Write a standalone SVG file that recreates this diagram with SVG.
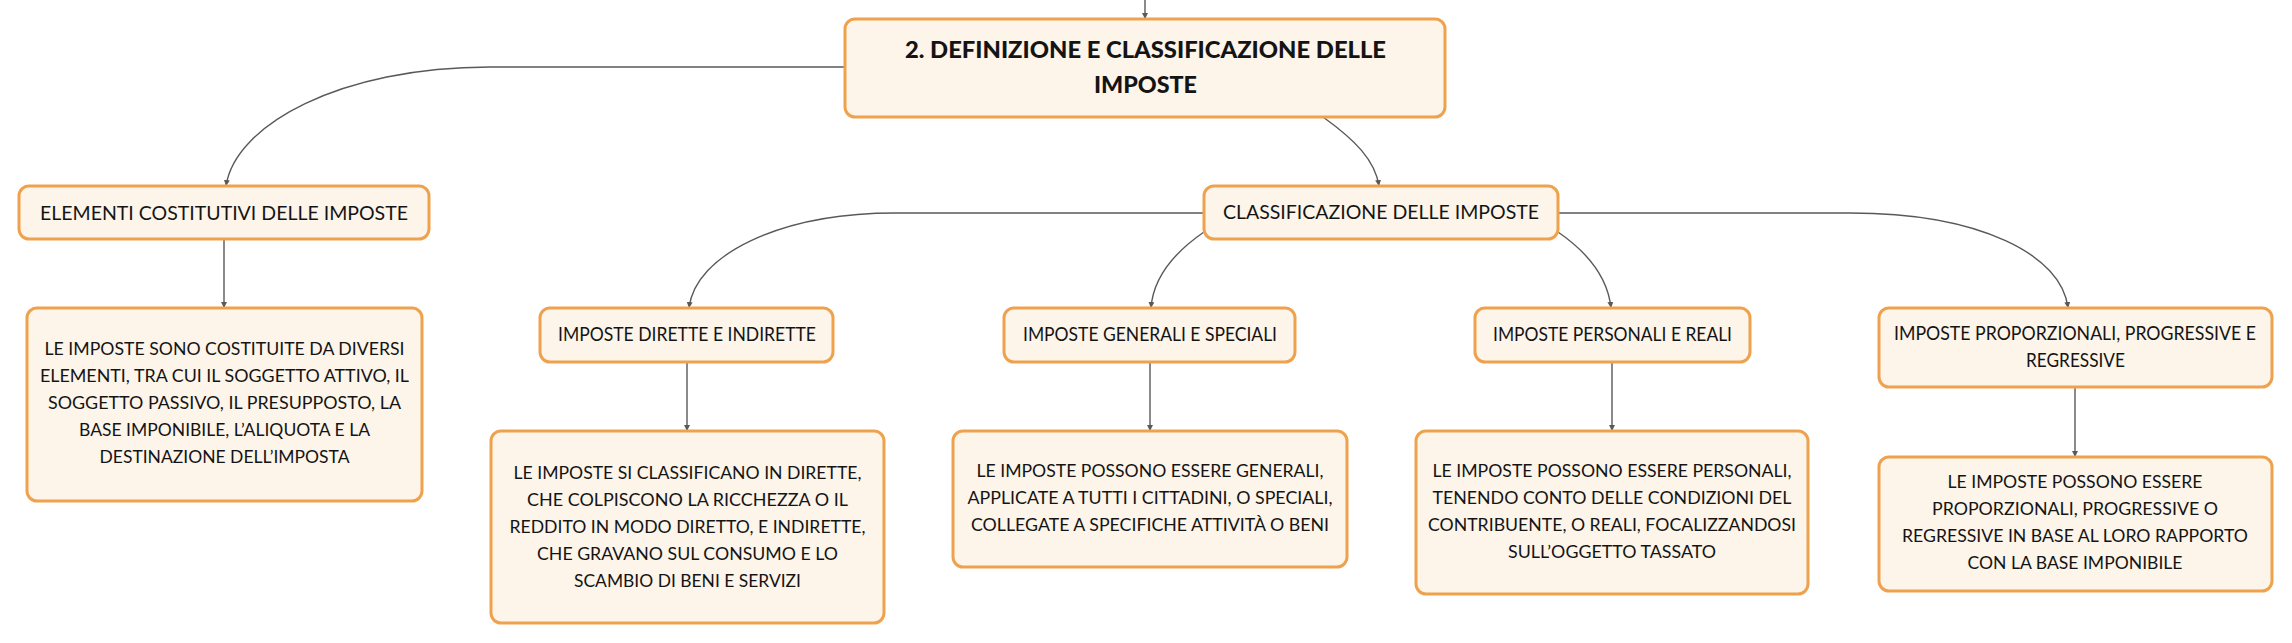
<svg xmlns="http://www.w3.org/2000/svg" width="2292" height="643" viewBox="0 0 2292 643">
<style>
.box{fill:#FDF4EA;stroke:#EFA24E;stroke-width:3}
.t{font-family:Lato,"Noto Sans",sans-serif;fill:#141414;text-anchor:middle}
.h{font-size:19.5px}
.d{font-size:17.5px}
.m{font-size:23px;font-weight:900}
.c{fill:none;stroke:#595959;stroke-width:1.4}
</style>
<defs>
<marker id="ar" markerUnits="userSpaceOnUse" markerWidth="6" markerHeight="6" refX="6" refY="3" orient="auto">
<path d="M0,0 L6,3 L0,6 z" fill="#595959"/>
</marker>
</defs>
<rect width="2292" height="643" fill="#ffffff"/>
<g id="connectors">
<path class="c" d="M1145,0 V19" marker-end="url(#ar)"/>
<path class="c" d="M845,67 H490 C340,67 235,125 226,186" marker-end="url(#ar)"/>
<path class="c" d="M1323,117 C1355,140 1375,160 1379,186" marker-end="url(#ar)"/>
<path class="c" d="M224,239 V308" marker-end="url(#ar)"/>
<path class="c" d="M1204,213 H895 C780,213 695,255 689,308" marker-end="url(#ar)"/>
<path class="c" d="M1204,232 C1172,254 1153,280 1151,308" marker-end="url(#ar)"/>
<path class="c" d="M1558,232 C1590,254 1608,280 1611,308" marker-end="url(#ar)"/>
<path class="c" d="M1558,213 H1850 C1980,213 2062,255 2068,308" marker-end="url(#ar)"/>
<path class="c" d="M687,362 V431" marker-end="url(#ar)"/>
<path class="c" d="M1150,362 V431" marker-end="url(#ar)"/>
<path class="c" d="M1612,362 V431" marker-end="url(#ar)"/>
<path class="c" d="M2075,387 V457" marker-end="url(#ar)"/>
</g>
<g id="main">
<rect class="box" x="845" y="19" width="600" height="98" rx="10"/>
<text class="t m" x="1145.5" y="58" textLength="481" lengthAdjust="spacingAndGlyphs">2. DEFINIZIONE E CLASSIFICAZIONE DELLE</text>
<text class="t m" x="1145.5" y="93" textLength="103" lengthAdjust="spacingAndGlyphs">IMPOSTE</text>
</g>
<g id="elementi">
<rect class="box" x="19" y="186" width="410" height="53" rx="10"/>
<text class="t h" x="224" y="220" textLength="368" lengthAdjust="spacingAndGlyphs">ELEMENTI COSTITUTIVI DELLE IMPOSTE</text>
</g>
<g id="desc-elementi">
<rect class="box" x="27" y="308" width="395" height="193" rx="10"/>
<text class="t d" x="224.5" y="355" textLength="360" lengthAdjust="spacingAndGlyphs">LE IMPOSTE SONO COSTITUITE DA DIVERSI</text>
<text class="t d" x="224.5" y="382" textLength="369" lengthAdjust="spacingAndGlyphs">ELEMENTI, TRA CUI IL SOGGETTO ATTIVO, IL</text>
<text class="t d" x="224.5" y="409" textLength="353" lengthAdjust="spacingAndGlyphs">SOGGETTO PASSIVO, IL PRESUPPOSTO, LA</text>
<text class="t d" x="224.5" y="436" textLength="291" lengthAdjust="spacingAndGlyphs">BASE IMPONIBILE, L’ALIQUOTA E LA</text>
<text class="t d" x="224.5" y="463" textLength="250" lengthAdjust="spacingAndGlyphs">DESTINAZIONE DELL’IMPOSTA</text>
</g>
<g id="classificazione">
<rect class="box" x="1204" y="186" width="354" height="53" rx="10"/>
<text class="t h" x="1381" y="219" textLength="316" lengthAdjust="spacingAndGlyphs">CLASSIFICAZIONE DELLE IMPOSTE</text>
</g>
<g id="dirette">
<rect class="box" x="540" y="308" width="293" height="54" rx="10"/>
<text class="t h" x="687" y="341" textLength="258" lengthAdjust="spacingAndGlyphs">IMPOSTE DIRETTE E INDIRETTE</text>
</g>
<g id="desc-dirette">
<rect class="box" x="491" y="431" width="393" height="192" rx="10"/>
<text class="t d" x="687.5" y="479" textLength="348" lengthAdjust="spacingAndGlyphs">LE IMPOSTE SI CLASSIFICANO IN DIRETTE,</text>
<text class="t d" x="687.5" y="506" textLength="321" lengthAdjust="spacingAndGlyphs">CHE COLPISCONO LA RICCHEZZA O IL</text>
<text class="t d" x="687.5" y="533" textLength="356" lengthAdjust="spacingAndGlyphs">REDDITO IN MODO DIRETTO, E INDIRETTE,</text>
<text class="t d" x="687.5" y="560" textLength="301" lengthAdjust="spacingAndGlyphs">CHE GRAVANO SUL CONSUMO E LO</text>
<text class="t d" x="687.5" y="587" textLength="227" lengthAdjust="spacingAndGlyphs">SCAMBIO DI BENI E SERVIZI</text>
</g>
<g id="generali">
<rect class="box" x="1004" y="308" width="291" height="54" rx="10"/>
<text class="t h" x="1150" y="341" textLength="254" lengthAdjust="spacingAndGlyphs">IMPOSTE GENERALI E SPECIALI</text>
</g>
<g id="desc-generali">
<rect class="box" x="953" y="431" width="394" height="136" rx="10"/>
<text class="t d" x="1150" y="477" textLength="347" lengthAdjust="spacingAndGlyphs">LE IMPOSTE POSSONO ESSERE GENERALI,</text>
<text class="t d" x="1150" y="504" textLength="365" lengthAdjust="spacingAndGlyphs">APPLICATE A TUTTI I CITTADINI, O SPECIALI,</text>
<text class="t d" x="1150" y="531" textLength="358" lengthAdjust="spacingAndGlyphs">COLLEGATE A SPECIFICHE ATTIVITÀ O BENI</text>
</g>
<g id="personali">
<rect class="box" x="1475" y="308" width="275" height="54" rx="10"/>
<text class="t h" x="1612.5" y="341" textLength="239" lengthAdjust="spacingAndGlyphs">IMPOSTE PERSONALI E REALI</text>
</g>
<g id="desc-personali">
<rect class="box" x="1416" y="431" width="392" height="163" rx="10"/>
<text class="t d" x="1612" y="477" textLength="359" lengthAdjust="spacingAndGlyphs">LE IMPOSTE POSSONO ESSERE PERSONALI,</text>
<text class="t d" x="1612" y="504" textLength="359" lengthAdjust="spacingAndGlyphs">TENENDO CONTO DELLE CONDIZIONI DEL</text>
<text class="t d" x="1612" y="531" textLength="368" lengthAdjust="spacingAndGlyphs">CONTRIBUENTE, O REALI, FOCALIZZANDOSI</text>
<text class="t d" x="1612" y="558" textLength="208" lengthAdjust="spacingAndGlyphs">SULL’OGGETTO TASSATO</text>
</g>
<g id="proporzionali">
<rect class="box" x="1879" y="308" width="393" height="79" rx="10"/>
<text class="t h" x="2075" y="340" textLength="362" lengthAdjust="spacingAndGlyphs">IMPOSTE PROPORZIONALI, PROGRESSIVE E</text>
<text class="t h" x="2075.5" y="367" textLength="99" lengthAdjust="spacingAndGlyphs">REGRESSIVE</text>
</g>
<g id="desc-proporzionali">
<rect class="box" x="1879" y="457" width="393" height="134" rx="10"/>
<text class="t d" x="2075" y="488" textLength="255" lengthAdjust="spacingAndGlyphs">LE IMPOSTE POSSONO ESSERE</text>
<text class="t d" x="2075" y="515" textLength="286" lengthAdjust="spacingAndGlyphs">PROPORZIONALI, PROGRESSIVE O</text>
<text class="t d" x="2075" y="542" textLength="346" lengthAdjust="spacingAndGlyphs">REGRESSIVE IN BASE AL LORO RAPPORTO</text>
<text class="t d" x="2075" y="569" textLength="215" lengthAdjust="spacingAndGlyphs">CON LA BASE IMPONIBILE</text>
</g>
</svg>
